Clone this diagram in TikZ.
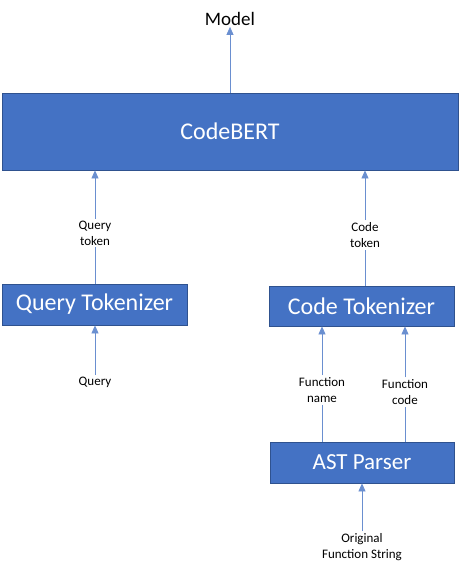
\documentclass[tikz,border=0pt]{standalone}
\usepackage{fontspec}
\setmainfont{Carlito}
\usetikzlibrary{arrows.meta}
\definecolor{boxfill}{HTML}{4472C4}
\definecolor{boxline}{HTML}{2F528F}
\definecolor{arr}{HTML}{6A8FD0}
\begin{document}
\begin{tikzpicture}[x=1pt,y=-1pt,
  blockbox/.style={draw=boxline, line width=0.8pt, fill=boxfill, text=white, inner sep=0pt, font=\fontsize{24}{28}\selectfont},
  lbl/.style={align=center, inner sep=2pt, font=\fontsize{13}{16}\selectfont},
  conn/.style={draw=arr, line width=0.8pt},
  arrowc/.style={conn, -{Triangle[width=7pt,length=8pt]}}]
\useasboundingbox (0,0) rectangle (468,574);
\node[font=\fontsize{19}{22}\selectfont, inner sep=1pt] (model) at (230,19) {Model};
\node[blockbox, minimum width=456pt, minimum height=77pt] (cb) at (230,131.5) {CodeBERT};
\node[blockbox, minimum width=185pt, minimum height=41pt] (qt) at (94.5,304.5) {Query Tokenizer};
\node[blockbox, minimum width=185pt, minimum height=40pt] (ct) at (361.5,306) {Code Tokenizer};
\node[blockbox, minimum width=184pt, minimum height=41pt, font=\fontsize{23}{27}\selectfont] (ast) at (362,462.5) {AST Parser};
\node[lbl] (qtok) at (95,233) {Query\\token};
\node[lbl] (ctok) at (365,235) {Code\\token};
\node[lbl] (q) at (95,382) {Query};
\node[lbl] (fn) at (322,390) {Function\\name};
\node[lbl] (fc) at (405,392) {Function\\code};
\node[lbl] (ofs) at (362,547) {Original\\Function String};
\draw[arrowc] (cb.north) -- (model.south);
\draw[conn] (qt.north -| qtok) -- (qtok.south);
\draw[arrowc] (qtok.north) -- (qtok.north |- cb.south);
\draw[conn] (ct.north -| ctok) -- (ctok.south);
\draw[arrowc] (ctok.north) -- (ctok.north |- cb.south);
\draw[arrowc] (q.north) -- (q.north |- qt.south);
\draw[conn] (ast.north -| fn) -- (fn.south);
\draw[arrowc] (fn.north) -- (fn.north |- ct.south);
\draw[conn] (ast.north -| fc) -- (fc.south);
\draw[arrowc] (fc.north) -- (fc.north |- ct.south);
\draw[arrowc] (ofs.north) -- (ast.south);
\end{tikzpicture}
\end{document}
